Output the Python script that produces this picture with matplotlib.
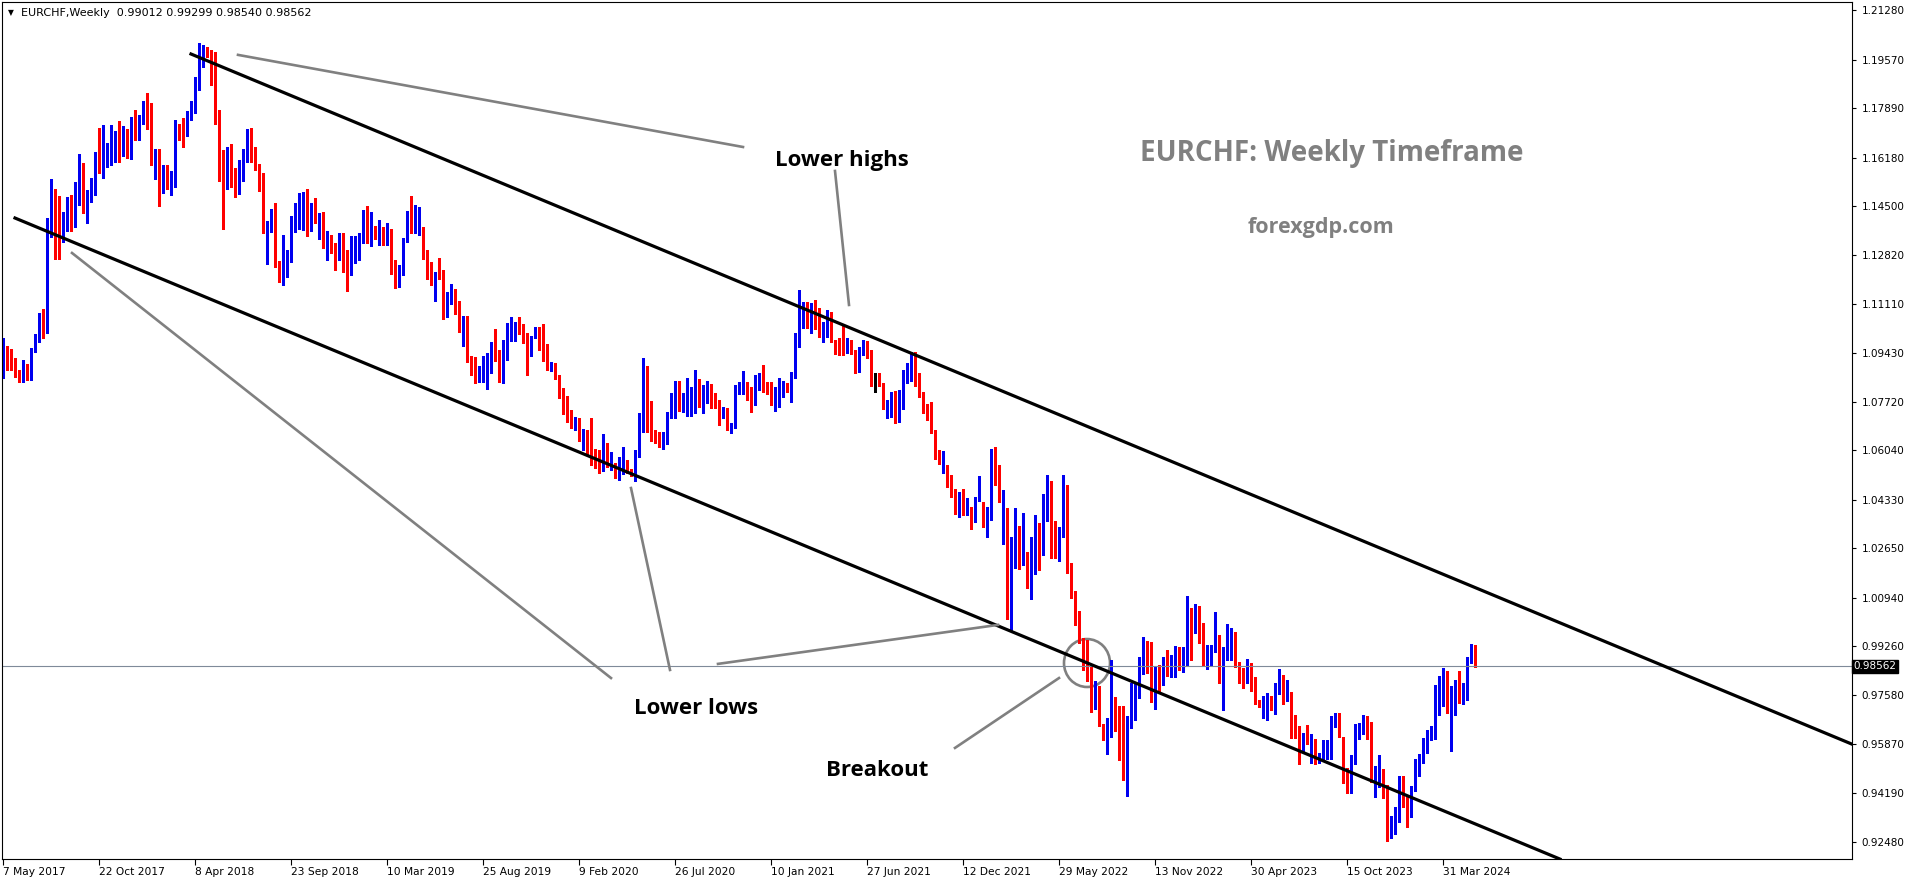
import matplotlib
matplotlib.use("Agg")
import matplotlib.pyplot as plt
from matplotlib.patches import Ellipse
import numpy as np

# EURCHF weekly candles, first bar = week of 7 May 2017
opens = [
    1.0888, 1.0935, 1.0908, 1.0877, 1.0865, 1.0856, 1.0900, 1.0851, 1.0946, 1.0981,
    1.1056, 1.1029, 1.1379, 1.1454, 1.1368, 1.1345, 1.1402, 1.1399, 1.1381, 1.1457,
    1.1551, 1.1424, 1.1466, 1.1521, 1.1596, 1.1566, 1.1617, 1.1598, 1.1656, 1.1689,
    1.1627, 1.1685, 1.1639, 1.1719, 1.1689, 1.1736, 1.1811, 1.1800, 1.1597, 1.1589,
    1.1508, 1.1515, 1.1500, 1.1547, 1.1710, 1.1711, 1.1696, 1.1766, 1.1777, 1.1855,
    1.1970, 1.1984, 1.1965, 1.1950, 1.1748, 1.1592, 1.1523, 1.1599, 1.1558, 1.1527,
    1.1558, 1.1608, 1.1702, 1.1639, 1.1592, 1.1506, 1.1306, 1.1376, 1.1430, 1.1246,
    1.1177, 1.1241, 1.1268, 1.1388, 1.1427, 1.1433, 1.1469, 1.1368, 1.1430, 1.1384,
    1.1416, 1.1306, 1.1339, 1.1296, 1.1270, 1.1312, 1.1264, 1.1246, 1.1277, 1.1306,
    1.1329, 1.1406, 1.1327, 1.1347, 1.1335, 1.1365, 1.1318, 1.1354, 1.1226, 1.1174,
    1.1218, 1.1327, 1.1402, 1.1365, 1.1358, 1.1375, 1.1285, 1.1226, 1.1182, 1.1209,
    1.1198, 1.1100, 1.1125, 1.1134, 1.1119, 1.1024, 1.1063, 1.0932, 1.0900, 1.0853,
    1.0846, 1.0879, 1.0891, 1.0941, 1.0924, 1.0842, 1.0918, 1.0991, 1.0987, 1.1020,
    1.1010, 1.0996, 1.0932, 1.0996, 1.1020, 1.0954, 1.0949, 1.0885, 1.0893, 1.0837,
    1.0817, 1.0736, 1.0698, 1.0683, 1.0695, 1.0608, 1.0649, 1.0644, 1.0577, 1.0562,
    1.0536, 1.0588, 1.0550, 1.0548, 1.0516, 1.0536, 1.0560, 1.0536, 1.0504, 1.0585,
    1.0675, 1.0860, 1.0718, 1.0654, 1.0631, 1.0629, 1.0629, 1.0733, 1.0718, 1.0764,
    1.0759, 1.0750, 1.0762, 1.0787, 1.0840, 1.0770, 1.0781, 1.0822, 1.0773, 1.0764,
    1.0725, 1.0730, 1.0678, 1.0683, 1.0804, 1.0804, 1.0818, 1.0819, 1.0782, 1.0817,
    1.0851, 1.0823, 1.0823, 1.0762, 1.0779, 1.0794, 1.0824, 1.0808, 1.0860, 1.0969,
    1.1067, 1.1110, 1.1044, 1.1095, 1.1079, 1.1007, 1.1010, 1.1059, 1.0975, 1.0958,
    1.0949, 1.0946, 1.0969, 1.0932, 1.0880, 1.0938, 1.0952, 1.0932, 1.0862, 1.0862,
    1.0831, 1.0754, 1.0756, 1.0808, 1.0730, 1.0750, 1.0845, 1.0846, 1.0931, 1.0840,
    1.0776, 1.0735, 1.0715, 1.0667, 1.0580, 1.0542, 1.0542, 1.0479, 1.0435, 1.0378,
    1.0419, 1.0386, 1.0398, 1.0361, 1.0433, 1.0423, 1.0340, 1.0369, 1.0598, 1.0485,
    1.0425, 1.0326, 1.0027, 1.0200, 1.0306, 1.0213, 1.0210, 1.0177, 1.0180, 1.0345,
    1.0246, 1.0412, 1.0425, 1.0286, 1.0264, 1.0313, 1.0383, 1.0173, 1.0091, 1.0011,
    0.9941, 0.9842, 0.9818, 0.9712, 0.9742, 0.9653, 0.9610, 0.9619, 0.9740, 0.9691,
    0.9651, 0.9501, 0.9648, 0.9673, 0.9765, 0.9832, 0.9917, 0.9890, 0.9731, 0.9847,
    0.9811, 0.9872, 0.9823, 0.9873, 0.9907, 0.9875, 0.9858, 1.0023, 0.9982, 1.0003,
    0.9994, 0.9850, 0.9884, 0.9911, 0.9950, 0.9807, 0.9882, 0.9896, 0.9915, 0.9852,
    0.9827, 0.9807, 0.9836, 0.9795, 0.9728, 0.9705, 0.9696, 0.9726, 0.9691, 0.9763,
    0.9771, 0.9754, 0.9740, 0.9671, 0.9622, 0.9569, 0.9598, 0.9588, 0.9573, 0.9538,
    0.9546, 0.9541, 0.9541, 0.9650, 0.9659, 0.9593, 0.9469, 0.9432, 0.9518, 0.9638,
    0.9644, 0.9650, 0.9644, 0.9465, 0.9471, 0.9466, 0.9411, 0.9267, 0.9278, 0.9319,
    0.9449, 0.9380, 0.9348, 0.9428, 0.9483, 0.9523, 0.9575, 0.9605, 0.9605, 0.9691,
    0.9723, 0.9751, 0.9693, 0.9691, 0.9761, 0.9731, 0.9742, 0.9869, 0.99012,
]
highs = [
    1.0992, 1.0966, 1.0954, 1.0923, 1.0883, 1.0917, 1.0902, 1.0958, 1.1007, 1.1079,
    1.1093, 1.1408, 1.1544, 1.1508, 1.1485, 1.1431, 1.1483, 1.1489, 1.1535, 1.1631,
    1.1598, 1.1506, 1.1546, 1.1636, 1.1721, 1.1731, 1.1668, 1.1731, 1.1711, 1.1746,
    1.1728, 1.1719, 1.1758, 1.1783, 1.1766, 1.1815, 1.1843, 1.1806, 1.1648, 1.1648,
    1.1592, 1.1592, 1.1572, 1.1748, 1.1734, 1.1754, 1.1780, 1.1814, 1.1897, 1.2014,
    1.2008, 1.2002, 1.1991, 1.1985, 1.1783, 1.1644, 1.1654, 1.1665, 1.1581, 1.1610,
    1.1647, 1.1718, 1.1722, 1.1654, 1.1596, 1.1564, 1.1399, 1.1439, 1.1460, 1.1260,
    1.1349, 1.1298, 1.1416, 1.1462, 1.1497, 1.1499, 1.1509, 1.1460, 1.1479, 1.1426,
    1.1431, 1.1363, 1.1350, 1.1321, 1.1356, 1.1356, 1.1298, 1.1348, 1.1348, 1.1356,
    1.1437, 1.1451, 1.1430, 1.1381, 1.1402, 1.1377, 1.1393, 1.1372, 1.1264, 1.1246,
    1.1340, 1.1433, 1.1487, 1.1454, 1.1447, 1.1377, 1.1298, 1.1258, 1.1223, 1.1271,
    1.1229, 1.1154, 1.1180, 1.1162, 1.1122, 1.1071, 1.1071, 1.0932, 1.0929, 1.0897,
    1.0931, 1.0941, 1.0979, 1.1025, 1.0952, 1.0987, 1.1047, 1.1067, 1.1050, 1.1067,
    1.1041, 1.1010, 1.0999, 1.1031, 1.1033, 1.1041, 1.0972, 1.0909, 1.0906, 1.0866,
    1.0819, 1.0793, 1.0744, 1.0721, 1.0718, 1.0678, 1.0675, 1.0715, 1.0608, 1.0606,
    1.0661, 1.0631, 1.0600, 1.0560, 1.0583, 1.0617, 1.0571, 1.0539, 1.0606, 1.0733,
    1.0923, 1.0898, 1.0775, 1.0675, 1.0669, 1.0669, 1.0736, 1.0802, 1.0845, 1.0845,
    1.0802, 1.0854, 1.0825, 1.0883, 1.0850, 1.0831, 1.0845, 1.0834, 1.0802, 1.0779,
    1.0756, 1.0750, 1.0698, 1.0831, 1.0842, 1.0879, 1.0842, 1.0825, 1.0865, 1.0871,
    1.0900, 1.0842, 1.0842, 1.0823, 1.0854, 1.0845, 1.0836, 1.0877, 1.1010, 1.1160,
    1.1119, 1.1119, 1.1114, 1.1125, 1.1096, 1.1050, 1.1091, 1.1085, 1.0987, 1.0992,
    1.1035, 1.0992, 1.0987, 1.0952, 1.0964, 1.0987, 1.0984, 1.0952, 1.0873, 1.0871,
    1.0837, 1.0779, 1.0808, 1.0811, 1.0813, 1.0883, 1.0906, 1.0946, 1.0946, 1.0871,
    1.0808, 1.0765, 1.0773, 1.0675, 1.0606, 1.0602, 1.0554, 1.0519, 1.0469, 1.0460,
    1.0469, 1.0438, 1.0409, 1.0444, 1.0516, 1.0427, 1.0409, 1.0609, 1.0615, 1.0555,
    1.0468, 1.0405, 1.0306, 1.0405, 1.0342, 1.0388, 1.0253, 1.0306, 1.0379, 1.0352,
    1.0455, 1.0518, 1.0498, 1.0359, 1.0339, 1.0518, 1.0485, 1.0213, 1.0117, 1.0047,
    0.9954, 0.9948, 0.9855, 0.9804, 0.9789, 0.9656, 0.9676, 0.9878, 0.9751, 0.9720,
    0.9720, 0.9686, 0.9798, 0.9798, 0.9888, 0.9957, 0.9945, 0.9942, 0.9856, 0.9861,
    0.9890, 0.9913, 0.9896, 0.9927, 0.9922, 0.9925, 1.0100, 1.0057, 1.0072, 1.0065,
    1.0008, 0.9930, 0.9930, 1.0043, 0.9965, 0.9922, 1.0003, 0.9988, 0.9976, 0.9870,
    0.9852, 0.9882, 0.9869, 0.9818, 0.9740, 0.9754, 0.9765, 0.9754, 0.9800, 0.9847,
    0.9827, 0.9809, 0.9767, 0.9688, 0.9651, 0.9624, 0.9653, 0.9622, 0.9605, 0.9558,
    0.9601, 0.9601, 0.9685, 0.9696, 0.9694, 0.9613, 0.9503, 0.9550, 0.9657, 0.9659,
    0.9687, 0.9685, 0.9663, 0.9511, 0.9550, 0.9500, 0.9446, 0.9339, 0.9371, 0.9475,
    0.9475, 0.9411, 0.9442, 0.9535, 0.9552, 0.9607, 0.9636, 0.9650, 0.9792, 0.9823,
    0.9852, 0.9840, 0.9788, 0.9809, 0.9840, 0.9798, 0.9890, 0.9934, 0.99299,
]
lows = [
    1.0855, 1.0883, 1.0883, 1.0860, 1.0842, 1.0842, 1.0848, 1.0848, 1.0944, 1.0978,
    1.0992, 1.1012, 1.1345, 1.1266, 1.1266, 1.1327, 1.1364, 1.1364, 1.1377, 1.1454,
    1.1427, 1.1393, 1.1466, 1.1489, 1.1564, 1.1546, 1.1587, 1.1592, 1.1604, 1.1602,
    1.1624, 1.1616, 1.1614, 1.1679, 1.1679, 1.1733, 1.1718, 1.1594, 1.1545, 1.1452,
    1.1494, 1.1508, 1.1490, 1.1517, 1.1679, 1.1656, 1.1693, 1.1748, 1.1773, 1.1852,
    1.1931, 1.1968, 1.1870, 1.1734, 1.1537, 1.1371, 1.1509, 1.1517, 1.1483, 1.1492,
    1.1538, 1.1604, 1.1604, 1.1575, 1.1501, 1.1356, 1.1249, 1.1362, 1.1241, 1.1186,
    1.1177, 1.1206, 1.1257, 1.1361, 1.1370, 1.1368, 1.1347, 1.1365, 1.1391, 1.1337,
    1.1304, 1.1264, 1.1287, 1.1229, 1.1264, 1.1221, 1.1157, 1.1212, 1.1252, 1.1264,
    1.1324, 1.1321, 1.1312, 1.1335, 1.1316, 1.1316, 1.1315, 1.1216, 1.1168, 1.1171,
    1.1211, 1.1326, 1.1356, 1.1356, 1.1350, 1.1268, 1.1199, 1.1177, 1.1123, 1.1197,
    1.1061, 1.1067, 1.1111, 1.1076, 1.1016, 1.0967, 1.0911, 1.0866, 1.0839, 1.0840,
    1.0842, 1.0816, 1.0871, 1.0914, 1.0842, 1.0839, 1.0918, 1.0982, 1.0982, 1.1008,
    1.0976, 1.0866, 1.0931, 1.0994, 1.0952, 1.0915, 1.0883, 1.0879, 1.0851, 1.0787,
    1.0732, 1.0704, 1.0683, 1.0675, 1.0638, 1.0606, 1.0588, 1.0554, 1.0542, 1.0527,
    1.0534, 1.0548, 1.0536, 1.0510, 1.0502, 1.0522, 1.0527, 1.0516, 1.0500, 1.0583,
    1.0669, 1.0669, 1.0638, 1.0631, 1.0617, 1.0608, 1.0626, 1.0715, 1.0715, 1.0741,
    1.0738, 1.0725, 1.0725, 1.0733, 1.0756, 1.0733, 1.0767, 1.0750, 1.0750, 1.0692,
    1.0715, 1.0675, 1.0663, 1.0681, 1.0799, 1.0799, 1.0779, 1.0738, 1.0762, 1.0813,
    1.0808, 1.0800, 1.0762, 1.0741, 1.0756, 1.0790, 1.0808, 1.0773, 1.0854, 1.0964,
    1.1027, 1.1027, 1.1012, 1.1025, 1.0998, 1.0981, 1.0998, 1.0981, 1.0938, 1.0935,
    1.0935, 1.0940, 1.0938, 1.0874, 1.0877, 1.0935, 1.0923, 1.0827, 1.0808, 1.0827,
    1.0749, 1.0718, 1.0721, 1.0700, 1.0704, 1.0748, 1.0839, 1.0845, 1.0827, 1.0790,
    1.0733, 1.0710, 1.0663, 1.0573, 1.0556, 1.0527, 1.0479, 1.0444, 1.0384, 1.0375,
    1.0381, 1.0381, 1.0331, 1.0358, 1.0430, 1.0340, 1.0303, 1.0363, 1.0485, 1.0425,
    1.0280, 1.0021, 0.9981, 1.0197, 1.0193, 1.0207, 1.0127, 1.0091, 1.0177, 1.0189,
    1.0242, 1.0359, 1.0233, 1.0233, 1.0220, 1.0306, 1.0180, 1.0094, 1.0001, 0.9937,
    0.9844, 0.9804, 0.9698, 0.9709, 0.9649, 0.9603, 0.9552, 0.9613, 0.9634, 0.9532,
    0.9463, 0.9409, 0.9644, 0.9671, 0.9746, 0.9830, 0.9832, 0.9734, 0.9708, 0.9763,
    0.9792, 0.9823, 0.9821, 0.9818, 0.9844, 0.9836, 0.9856, 0.9878, 0.9973, 0.9936,
    0.9858, 0.9846, 0.9856, 0.9907, 0.9798, 0.9705, 0.9878, 0.9878, 0.9853, 0.9800,
    0.9783, 0.9798, 0.9772, 0.9726, 0.9717, 0.9679, 0.9671, 0.9705, 0.9691, 0.9761,
    0.9725, 0.9738, 0.9609, 0.9607, 0.9517, 0.9559, 0.9588, 0.9521, 0.9518, 0.9521,
    0.9527, 0.9535, 0.9536, 0.9648, 0.9613, 0.9454, 0.9419, 0.9419, 0.9517, 0.9604,
    0.9622, 0.9605, 0.9457, 0.9405, 0.9440, 0.9399, 0.9253, 0.9261, 0.9276, 0.9317,
    0.9371, 0.9301, 0.9334, 0.9426, 0.9475, 0.9521, 0.9558, 0.9601, 0.9604, 0.9688,
    0.9720, 0.9694, 0.9565, 0.9688, 0.9728, 0.9726, 0.9740, 0.9867, 0.98540,
]
closes = [
    1.0948, 1.0909, 1.0894, 1.0863, 1.0856, 1.0910, 1.0851, 1.0952, 1.0996, 1.1056,
    1.1036, 1.1387, 1.1461, 1.1377, 1.1350, 1.1411, 1.1451, 1.1364, 1.1468, 1.1592,
    1.1441, 1.1482, 1.1527, 1.1599, 1.1583, 1.1624, 1.1624, 1.1664, 1.1695, 1.1618,
    1.1693, 1.1646, 1.1738, 1.1699, 1.1736, 1.1808, 1.1778, 1.1610, 1.1606, 1.1517,
    1.1517, 1.1509, 1.1558, 1.1714, 1.1706, 1.1704, 1.1766, 1.1786, 1.1870, 1.1987,
    1.1991, 1.1968, 1.1947, 1.1746, 1.1537, 1.1523, 1.1598, 1.1581, 1.1517, 1.1579,
    1.1633, 1.1711, 1.1642, 1.1602, 1.1506, 1.1362, 1.1393, 1.1433, 1.1246, 1.1202,
    1.1249, 1.1273, 1.1399, 1.1433, 1.1464, 1.1474, 1.1372, 1.1431, 1.1400, 1.1419,
    1.1306, 1.1312, 1.1289, 1.1289, 1.1321, 1.1264, 1.1249, 1.1283, 1.1318, 1.1336,
    1.1408, 1.1327, 1.1358, 1.1341, 1.1362, 1.1330, 1.1358, 1.1229, 1.1168, 1.1226,
    1.1338, 1.1406, 1.1368, 1.1396, 1.1373, 1.1286, 1.1230, 1.1182, 1.1202, 1.1197,
    1.1102, 1.1109, 1.1139, 1.1096, 1.1018, 1.1063, 1.0914, 1.0900, 1.0856, 1.0868,
    1.0886, 1.0897, 1.0970, 1.0926, 1.0847, 1.0935, 1.1008, 1.1001, 1.1024, 1.1010,
    1.0996, 1.0943, 1.0994, 1.1024, 1.0954, 1.0949, 1.0886, 1.0896, 1.0854, 1.0822,
    1.0735, 1.0710, 1.0692, 1.0707, 1.0643, 1.0650, 1.0592, 1.0583, 1.0560, 1.0542,
    1.0592, 1.0550, 1.0560, 1.0516, 1.0542, 1.0560, 1.0530, 1.0525, 1.0597, 1.0678,
    1.0869, 1.0677, 1.0646, 1.0640, 1.0625, 1.0640, 1.0733, 1.0736, 1.0765, 1.0759,
    1.0767, 1.0773, 1.0779, 1.0822, 1.0764, 1.0798, 1.0808, 1.0787, 1.0764, 1.0725,
    1.0733, 1.0678, 1.0686, 1.0808, 1.0808, 1.0827, 1.0813, 1.0779, 1.0825, 1.0863,
    1.0822, 1.0808, 1.0767, 1.0779, 1.0822, 1.0840, 1.0813, 1.0869, 1.0975, 1.1108,
    1.1114, 1.1096, 1.1093, 1.1067, 1.1007, 1.1030, 1.1067, 1.0981, 1.0954, 1.0950,
    1.0938, 1.0975, 1.0940, 1.0877, 1.0961, 1.0952, 1.0927, 1.0856, 1.0862, 1.0827,
    1.0750, 1.0770, 1.0802, 1.0730, 1.0752, 1.0862, 1.0848, 1.0938, 1.0840, 1.0790,
    1.0736, 1.0713, 1.0666, 1.0586, 1.0556, 1.0546, 1.0482, 1.0448, 1.0386, 1.0424,
    1.0386, 1.0400, 1.0378, 1.0438, 1.0438, 1.0343, 1.0384, 1.0606, 1.0492, 1.0432,
    1.0435, 1.0027, 1.0203, 1.0299, 1.0224, 1.0226, 1.0160, 1.0189, 1.0339, 1.0266,
    1.0429, 1.0435, 1.0295, 1.0277, 1.0322, 1.0388, 1.0180, 1.0117, 1.0004, 0.9941,
    0.9848, 0.9815, 0.9733, 0.9802, 0.9656, 0.9627, 0.9627, 0.9775, 0.9648, 0.9653,
    0.9509, 0.9651, 0.9691, 0.9783, 0.9844, 0.9930, 0.9904, 0.9749, 0.9827, 0.9829,
    0.9875, 0.9844, 0.9892, 0.9911, 0.9898, 0.9878, 1.0038, 0.9992, 1.0014, 0.9994,
    0.9861, 0.9884, 0.9928, 0.9957, 0.9804, 0.9882, 0.9898, 0.9922, 0.9865, 0.9827,
    0.9807, 0.9853, 0.9813, 0.9748, 0.9719, 0.9709, 0.9732, 0.9711, 0.9786, 0.9772,
    0.9765, 0.9757, 0.9680, 0.9638, 0.9592, 0.9611, 0.9596, 0.9598, 0.9546, 0.9546,
    0.9558, 0.9573, 0.9659, 0.9676, 0.9630, 0.9484, 0.9454, 0.9535, 0.9650, 0.9642,
    0.9667, 0.9642, 0.9461, 0.9472, 0.9486, 0.9428, 0.9287, 0.9307, 0.9339, 0.9463,
    0.9374, 0.9354, 0.9438, 0.9497, 0.9535, 0.9575, 0.9601, 0.9622, 0.9702, 0.9728,
    0.9783, 0.9731, 0.9702, 0.9783, 0.9740, 0.9765, 0.9887, 0.9922, 0.98562,
]

date_labels = ["7 May 2017", "22 Oct 2017", "8 Apr 2018", "23 Sep 2018", "10 Mar 2019",
               "25 Aug 2019", "9 Feb 2020", "26 Jul 2020", "10 Jan 2021", "27 Jun 2021",
               "12 Dec 2021", "29 May 2022", "13 Nov 2022", "30 Apr 2023", "15 Oct 2023",
               "31 Mar 2024"]
date_bars = [0, 24, 48, 72, 96, 120, 144, 168, 192, 216, 240, 264, 288, 312, 336, 360]
price_ticks = [1.21280, 1.19570, 1.17890, 1.16180, 1.14500, 1.12820, 1.11110, 1.09430,
               1.07720, 1.06040, 1.04330, 1.02650, 1.00940, 0.99260, 0.97580, 0.95870,
               0.94190, 0.92480]
last_price = 0.98562
header = "EURCHF,Weekly  0.99012 0.99299 0.98540 0.98562"

# trend channel drawn on the chart (bar index, price)
upper_channel = ([47.0, 462.25], [1.1977, 0.9587])
lower_channel = ([3.0, 389.25], [1.1409, 0.9189])

# grey pointer lines of the annotations
pointers = [
    ([58.75, 185.0], [1.1974, 1.1655]),
    ([208.0, 211.5], [1.1572, 1.1108]),
    ([17.25, 152.0], [1.1288, 0.9816]),
    ([157.0, 166.75], [1.0474, 0.9844]),
    ([178.75, 248.75], [0.9865, 1.0000]),
    ([238.0, 264.0], [0.9574, 0.9816]),
]

W, H = 1916, 884
fig = plt.figure(figsize=(W / 100, H / 100), dpi=100)
ax = fig.add_axes([2 / W, 1 - 859 / H, 1850 / W, 857 / H])
ax.set_xlim(-0.25, 462.25)
ax.set_ylim(0.91893, 1.21571)

o = np.array(opens)
h = np.array(highs)
l = np.array(lows)
c = np.array(closes)
idx = np.arange(len(c))
col = np.where(c > o, "#0000f0", np.where(c < o, "#ff0000", "black"))

ax.vlines(idx, l, h, colors=col, linewidth=0.75, antialiased=False)
ax.bar(idx, np.maximum(np.abs(c - o), 0.0004), bottom=np.minimum(o, c), width=0.75,
       color=col, linewidth=0, antialiased=False)

ax.axhline(last_price, color="#7f8a99", lw=0.8)
ax.plot(*upper_channel, color="black", lw=2.3)
ax.plot(*lower_channel, color="black", lw=2.3)
for xs, ys in pointers:
    ax.plot(xs, ys, color="#808080", lw=1.9)
ax.add_patch(Ellipse((271, 0.9868), 11.5, 0.0166, fill=False, ec="#808080", lw=1.9))

bold = dict(family="Open Sans", weight="bold")
ax.text(209.75, 1.1607, "Lower highs", fontsize=16, ha="center", va="center", color="black", **bold)
ax.text(173.25, 0.9711, "Lower lows", fontsize=16, ha="center", va="center", color="black", **bold)
ax.text(218.5, 0.9495, "Breakout", fontsize=16, ha="center", va="center", color="black", **bold)
ax.text(332.1, 1.1634, "EURCHF: Weekly Timeframe", fontsize=20, ha="center", va="center",
        color="#808080", **bold)
ax.text(329.6, 1.1377, "forexgdp.com", fontsize=15.5, ha="center", va="center", color="#808080", **bold)

# axes look
for s in ax.spines.values():
    s.set_color("black")
    s.set_linewidth(0.8)
ax.yaxis.tick_right()
ax.set_yticks(price_ticks)
ax.set_yticklabels([f"{v:.5f}" for v in price_ticks])
ax.tick_params(axis="y", direction="out", length=3, width=0.8, pad=4, labelsize=7.5)
ax.set_xticks(date_bars)
ax.set_xticklabels(date_labels, ha="left")
ax.tick_params(axis="x", direction="out", length=4, width=0.8, pad=2, labelsize=7.7)

ax.text(1.0006, last_price, f"{last_price:.5f}", transform=ax.get_yaxis_transform(),
        color="white", fontsize=7.5, va="center", ha="left",
        bbox=dict(boxstyle="square,pad=0.15", fc="black", ec="black"))

fig.text(8 / W, 1 - 13 / H, "\u25bc", fontsize=5.5, va="center", ha="left")
fig.text(21 / W, 1 - 13 / H, header, fontsize=8.0, va="center", ha="left")

fig.savefig("out.png", dpi=100)
